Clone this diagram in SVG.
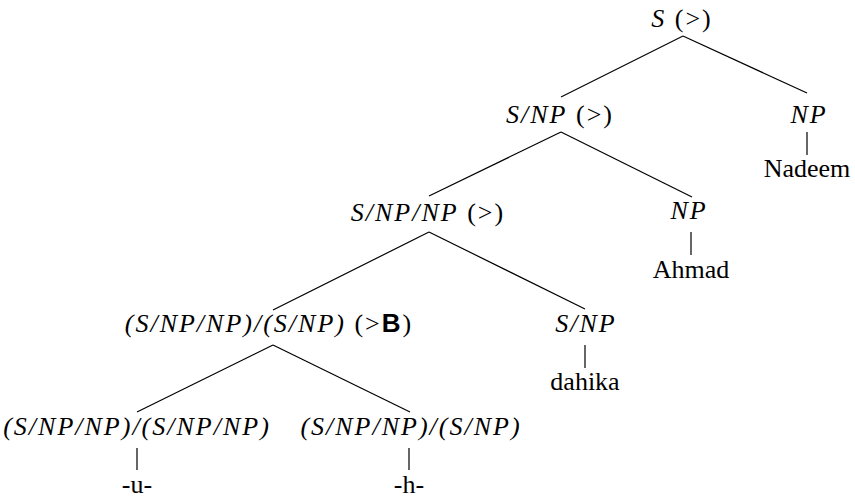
<svg xmlns="http://www.w3.org/2000/svg" width="855" height="500" viewBox="0 0 855 500">
<style>
text{font-family:"Liberation Serif","Times New Roman",serif;font-size:26px;fill:#000;text-anchor:middle}
.it{font-style:italic;letter-spacing:2px}
.cat{letter-spacing:2px}
.bf{font-family:"Liberation Sans",Arial,sans-serif;font-weight:bold;font-style:normal}
.edges line{stroke:#000;stroke-width:1.2;fill:none}
</style>
<rect width="855" height="500" fill="#fff"/>
<g class="edges" id="connectors">
<line x1="683" y1="36" x2="561" y2="97"/>
<line x1="683" y1="36" x2="807" y2="93"/>
<line x1="807" y1="132" x2="807" y2="155"/>
<line x1="561" y1="132" x2="429" y2="196"/>
<line x1="561" y1="132" x2="692" y2="197"/>
<line x1="691" y1="232" x2="691" y2="255"/>
<line x1="429" y1="232" x2="273" y2="310"/>
<line x1="429" y1="232" x2="585" y2="309"/>
<line x1="585" y1="345" x2="585" y2="368"/>
<line x1="273" y1="345" x2="137" y2="412"/>
<line x1="273" y1="345" x2="410" y2="412"/>
<line x1="137" y1="448" x2="137" y2="470"/>
<line x1="409" y1="448" x2="409" y2="470"/>
</g>
<g id="n-root"><text class="cat" x="682" y="27"><tspan font-style="italic">S</tspan> (&gt;)</text></g>
<g id="n-snp"><text class="cat" x="560" y="123"><tspan font-style="italic">S/NP</tspan> (&gt;)</text></g>
<g id="n-np1"><text class="it" x="809" y="123">NP</text></g>
<g id="w-nadeem"><text x="807" y="177">Nadeem</text></g>
<g id="n-snpnp"><text class="cat" x="428" y="221"><tspan font-style="italic">S/NP/NP</tspan> (&gt;)</text></g>
<g id="n-np2"><text class="it" x="689" y="219">NP</text></g>
<g id="w-ahmad"><text x="691" y="278">Ahmad</text></g>
<g id="n-comp"><text class="cat" x="269" y="332"><tspan font-style="italic">(S/NP/NP)/(S/NP)</tspan> (&gt;<tspan class="bf">B</tspan>)</text></g>
<g id="n-snp2"><text class="it" x="586" y="332">S/NP</text></g>
<g id="w-dahika"><text x="585" y="390">dahika</text></g>
<g id="n-u"><text class="it" x="137" y="435">(S/NP/NP)/(S/NP/NP)</text></g>
<g id="w-u"><text x="137" y="493">-u-</text></g>
<g id="n-h"><text class="it" x="411" y="435">(S/NP/NP)/(S/NP)</text></g>
<g id="w-h"><text x="409" y="493">-h-</text></g>
</svg>
